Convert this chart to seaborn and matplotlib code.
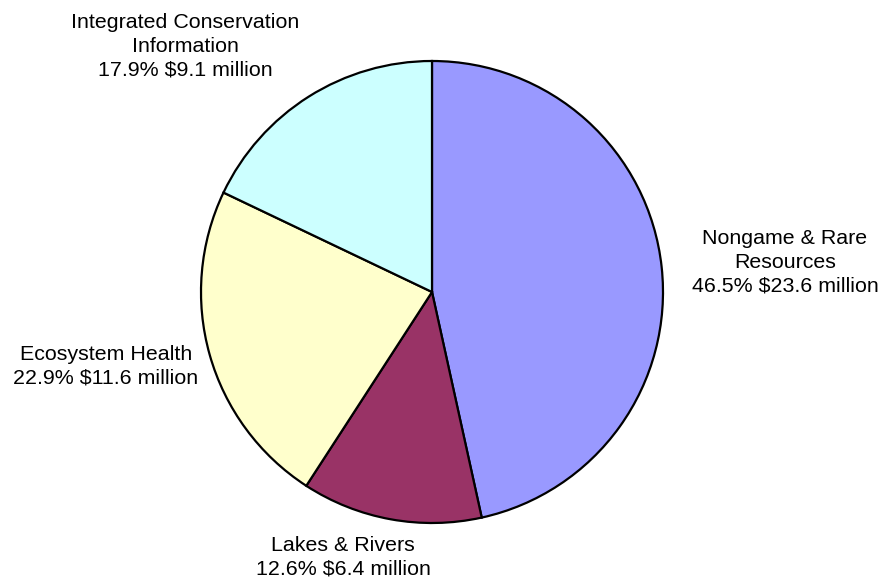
"""Pie chart of conservation spending by program area"""
import matplotlib
matplotlib.use("Agg")
import matplotlib.pyplot as plt
import seaborn as sns

programs = ["Nongame & Rare\nResources", "Lakes & Rivers",
            "Ecosystem Health", "Integrated Conservation\nInformation"]
shares = [46.5, 12.6, 22.9, 17.9]
millions = [23.6, 6.4, 11.6, 9.1]
colors = ["#9999FF", "#993366", "#FFFFCC", "#CCFFFF"]

sns.set_theme(style="white")
plt.rcParams["font.family"] = ["Liberation Sans", "DejaVu Sans"]

W, H = 883, 581
fig = plt.figure(figsize=(W / 100, H / 100), dpi=100)
fig.patch.set_facecolor("white")

# circle centre (432, 292) px, radius 231 px (axes padded a little for the edge line)
cx, cy, r = 432, 292, 231
pad = 1.01
ax = fig.add_axes([(cx - r * pad) / W, (H - cy - r * pad) / H,
                   2 * r * pad / W, 2 * r * pad / H])
ax.pie(shares, colors=sns.color_palette(colors), startangle=90,
       counterclock=False, radius=1,
       wedgeprops=dict(edgecolor="black", linewidth=1.6))
ax.set_xlim(-pad, pad)
ax.set_ylim(-pad, pad)
ax.set_aspect("equal")
ax.axis("off")

# label centres in pixels (x, y from top)
label_pos = [(785, 262), (343, 557), (106, 366), (185, 46)]
for name, pct, amt, (px, py) in zip(programs, shares, millions, label_pos):
    fig.text(px / W, 1 - py / H, f"{name}\n{pct:.1f}% ${amt} million",
             ha="center", va="center", fontsize=15.4, linespacing=1.33,
             color="black")

fig.savefig("out.png", dpi=100)
